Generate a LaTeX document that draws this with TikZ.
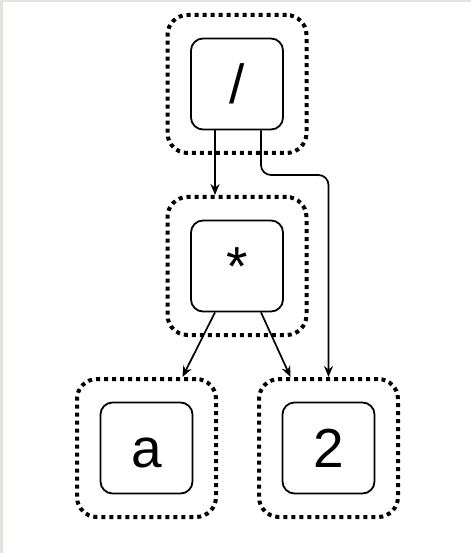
\documentclass[tikz,border=0pt]{standalone}
\usepackage{fontspec}
\setmainfont{Liberation Sans}
\usetikzlibrary{arrows.meta,positioning}
\tikzset{>={Stealth[length=11pt,width=9pt]}}
\definecolor{framegray}{RGB}{228,228,222}

\begin{document}
\begin{tikzpicture}[x=1pt,y=-1pt,
    op/.style={draw,rounded corners=12pt,line width=1.8pt,minimum width=92pt,minimum height=91pt,
      inner sep=0pt,text height=39pt,text depth=0pt,font=\fontsize{55}{60}\selectfont},
    halo/.style={draw,rounded corners=20pt,line width=4pt,dash pattern=on 4pt off 4pt,
      minimum width=139pt,minimum height=138pt},
    link/.style={->,line width=1.7pt}]
  % page frame
  \fill[framegray] (0,0) rectangle (471,553);
  \fill[white] (3,2.5) rectangle (471,553);
  %
  \node[halo] (divh) at (237,84) {};
  \node[op] (div) at (237,84) {/};
  \node[halo] (mulh) at (237,266) {};
  \node[op] (mul) at (237,266) {*};
  \node[halo] (ah) at (146.5,448) {};
  \node[op] (a) at (146.5,448) {a};
  \node[halo] (twoh) at (328.5,448) {};
  \node[op] (two) at (328.5,448) {2};
  \coordinate (bend) at (328.5,175);
  %
  \draw[link] ([xshift=-22pt]div.south) -- ([xshift=-22pt]mulh.north);
  \draw[link,rounded corners=10pt] ([xshift=24pt]div.south) |- (bend) -- (twoh.north);
  \draw[link] ([xshift=-22pt]mul.south) -- ([xshift=36pt]ah.north);
  \draw[link] ([xshift=24pt]mul.south) -- ([xshift=-38pt]twoh.north);
\end{tikzpicture}
\end{document}
